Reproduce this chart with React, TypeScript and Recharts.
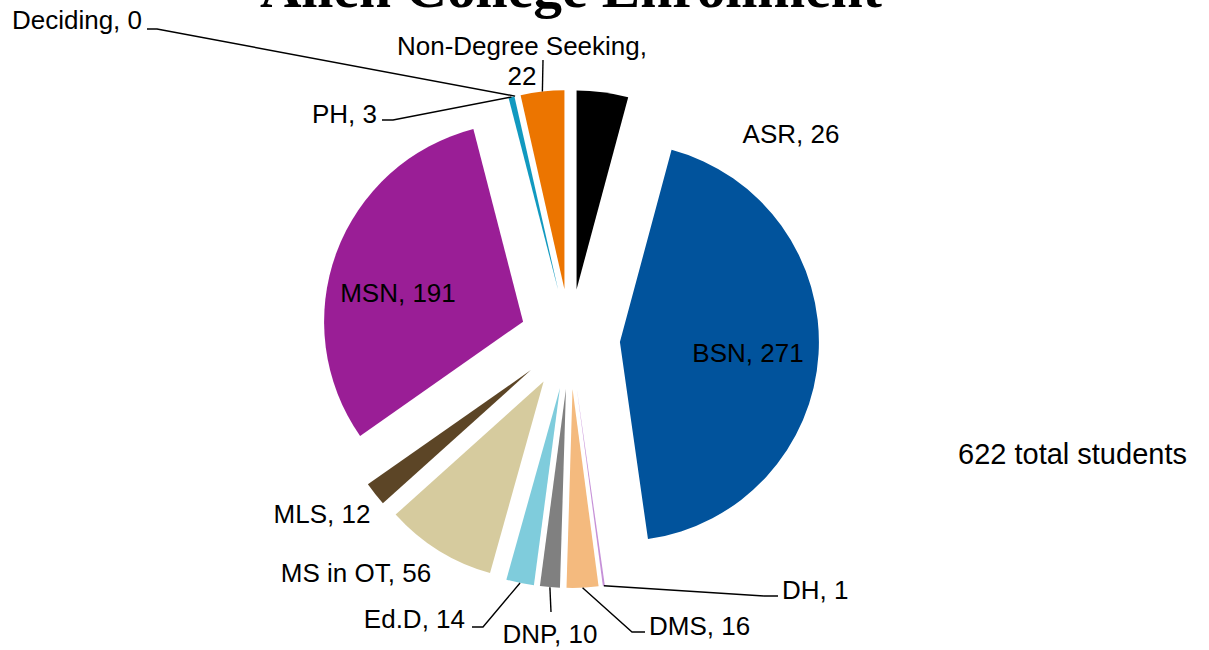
import { PieChart, Pie, Cell, Sector } from "recharts";

const categories = [
  "ASR",
  "BSN",
  "DH",
  "DMS",
  "DNP",
  "Ed.D",
  "MS in OT",
  "MLS",
  "MSN",
  "PH",
  "Deciding",
  "Non-Degree Seeking",
];
const students = [26, 271, 1, 16, 10, 14, 56, 12, 191, 3, 0, 22];

const COLORS = [
  "#000000",
  "#01539C",
  "#C691D8",
  "#F4BA7E",
  "#808080",
  "#7FCCDC",
  "#D6CB9E",
  "#5C4526",
  "#9A1E96",
  "#1199C0",
  "#FFFFFF",
  "#EC7500",
];

// label placement relative to the pie centre; leader = elbow points (also relative)
type LabelLayout = {
  dx: number;
  dy: number;
  anchor: "start" | "middle" | "end";
  leader?: [number, number][];
  wrap?: boolean;
};
const LABELS: LabelLayout[] = [
  { dx: 221, dy: -196, anchor: "middle" },
  { dx: 178, dy: 23, anchor: "middle" },
  { dx: 212, dy: 260, anchor: "start", leader: [[194, 257], [208, 257]] },
  { dx: 79, dy: 296, anchor: "start", leader: [[62, 293], [75, 293]] },
  { dx: -20, dy: 304, anchor: "middle", leader: [[-19, 273]] },
  { dx: -105, dy: 289, anchor: "end", leader: [[-87, 288], [-98, 288]] },
  { dx: -214, dy: 243, anchor: "middle" },
  { dx: -248, dy: 184, anchor: "middle" },
  { dx: -172, dy: -37, anchor: "middle" },
  { dx: -193, dy: -216, anchor: "end", leader: [[-177, -219], [-188, -219]] },
  { dx: -428, dy: -310, anchor: "end", leader: [[-413, -310], [-423, -310]] },
  { dx: -48, dy: -284, anchor: "middle", leader: [[-27, -279]], wrap: true },
];

const data = categories.map((name, i) => ({ name, value: students[i] }));
const total = students.reduce((a, b) => a + b, 0);

const CX = 570;
const CY = 339;
const RADIUS = 199;
const EXPLODE = 50;
const RAD = Math.PI / 180;
const FONT = "'Liberation Sans', Arial, sans-serif";

const shift = (x: number, y: number, angle: number, r: number) => ({
  x: x + r * Math.cos(-angle * RAD),
  y: y + r * Math.sin(-angle * RAD),
});

const ExplodedSlice = (props: any) => {
  const { cx, cy, midAngle, innerRadius, outerRadius, startAngle, endAngle, fill } = props;
  const c = shift(cx, cy, midAngle, EXPLODE);
  return (
    <Sector
      cx={c.x}
      cy={c.y}
      innerRadius={innerRadius}
      outerRadius={outerRadius}
      startAngle={startAngle}
      endAngle={endAngle}
      fill={fill}
      stroke="none"
    />
  );
};

const renderLabel = (props: any) => {
  const { cx, cy, midAngle, outerRadius, index } = props;
  const lay = LABELS[index];
  const c = shift(cx, cy, midAngle, EXPLODE);
  const edge = shift(c.x, c.y, midAngle, outerRadius);
  const tx = cx + lay.dx;
  const ty = cy + lay.dy;
  const text = `${data[index].name}, ${data[index].value}`;
  let pts = "";
  if (lay.leader) {
    pts = [[edge.x, edge.y], ...lay.leader.map(([x, y]) => [cx + x, cy + y])]
      .map((p) => p.join(","))
      .join(" ");
  }
  return (
    <g key={`lbl-${index}`}>
      {lay.leader && <polyline points={pts} fill="none" stroke="#000" strokeWidth={1.4} />}
      {lay.wrap ? (
        <text x={tx} y={ty} textAnchor={lay.anchor} fontFamily={FONT} fontSize={26} fill="#000">
          <tspan x={tx} y={ty}>{`${data[index].name},`}</tspan>
          <tspan x={tx} y={ty + 30}>{data[index].value}</tspan>
        </text>
      ) : (
        <text x={tx} y={ty} textAnchor={lay.anchor} fontFamily={FONT} fontSize={26} fill="#000">
          {text}
        </text>
      )}
    </g>
  );
};

const App = () => {
  return (
    <div style={{ position: "absolute", left: 0, top: 0, width: 1209, height: 650, background: "#fff" }}>
      <PieChart width={1209} height={650} margin={{ top: 0, right: 0, bottom: 0, left: 0 }}>
        <Pie
          data={data}
          dataKey="value"
          nameKey="name"
          cx={CX}
          cy={CY}
          innerRadius={0}
          outerRadius={RADIUS}
          startAngle={90}
          endAngle={-270}
          stroke="none"
          isAnimationActive={false}
          labelLine={false}
          label={renderLabel}
          shape={ExplodedSlice}
          activeShape={ExplodedSlice}
          inactiveShape={ExplodedSlice}
        >
          {data.map((_, i) => (
            <Cell key={i} fill={COLORS[i % COLORS.length]} />
          ))}
        </Pie>
      </PieChart>
      <svg
        width={1209}
        height={650}
        style={{ position: "absolute", left: 0, top: 0, pointerEvents: "none" }}
      >
        <text
          x={571}
          y={7}
          textAnchor="middle"
          fontFamily="'Liberation Serif', 'Times New Roman', serif"
          fontWeight="bold"
          fontSize={57.5}
          fill="#000"
        >
          Allen College Enrollment
        </text>
        <text x={958} y={464} fontFamily={FONT} fontSize={29} fill="#000">
          {`${total} total students`}
        </text>
      </svg>
    </div>
  );
};

export default App;
